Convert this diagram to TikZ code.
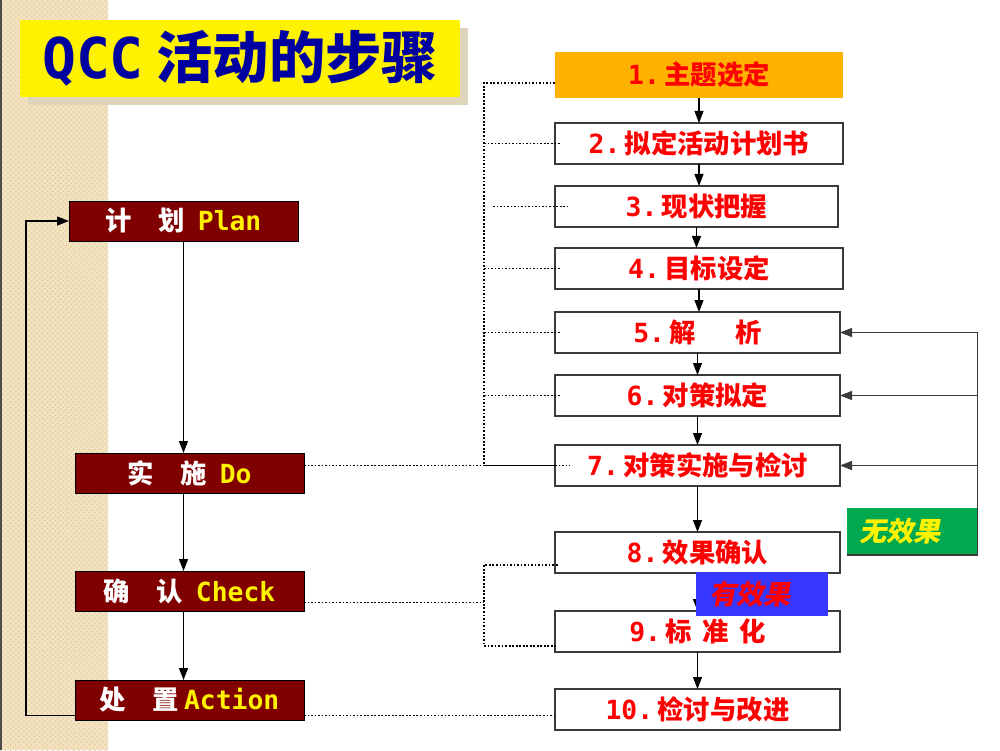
\documentclass[tikz,border=0pt]{standalone}
\usepackage{fontspec}
\newfontfamily\cjk{Noto Sans CJK SC}
\newfontfamily\cjkit{Noto Sans CJK SC}[FakeSlant=0.2]
\newfontfamily\mono{DejaVu Sans Mono}
\usetikzlibrary{positioning,patterns,arrows.meta}
\definecolor{darkred}{HTML}{800000}
\definecolor{titleblue}{HTML}{0000A0}
\definecolor{stepred}{HTML}{FF0000}
\definecolor{orangebox}{HTML}{FFB300}
\definecolor{greenbox}{HTML}{00A84F}
\definecolor{bluebox}{HTML}{3737FF}
\definecolor{strip}{HTML}{F2E2C0}
\definecolor{stripdot}{HTML}{E2CA9B}
\definecolor{shadow}{HTML}{DDD4BA}
\definecolor{edge}{HTML}{3A3A3A}
\newcommand\yel[1]{{\mono\color{yellow}#1}}

\begin{document}
\begin{tikzpicture}
[>={Stealth[length=2.4mm,width=1.8mm,inset=0pt]}, line width=0.6pt,
 pdca/.style={draw=black, line width=0.5pt, fill=darkred, text=white, minimum width=4.58cm, minimum height=0.8cm, inner sep=0pt, outer sep=0pt, font=\cjk\bfseries\fontsize{15}{18}\selectfont},
 stage/.style={draw=edge, line width=0.8pt, fill=white, text=stepred, minimum width=5.7cm, minimum height=0.82cm, inner sep=0pt, outer sep=0pt, font=\cjk\bfseries\fontsize{15}{18}\selectfont},
 verdict/.style={minimum width=2.62cm, inner xsep=0.26cm, text width=2.1cm, align=left, outer sep=0pt, font=\cjkit\bfseries\fontsize{15.5}{18}\selectfont},
 link/.style={dash pattern=on 1pt off 1pt, line width=1pt, black}]
\useasboundingbox (0,0) rectangle (20,15);

% strip
\fill [strip] (0,0) rectangle (2.16,15);
\fill [pattern=crosshatch dots, pattern color=stripdot] (0,0) rectangle (2.16,15);
\draw [line width=1pt, black!70] (0.02,0) -- (0.02,15);

% title
\node [fill=shadow, minimum width=8.8cm, minimum height=1.54cm] at (4.96,13.67) {};
\node [fill=yellow, minimum width=8.8cm, minimum height=1.54cm, text=titleblue, font=\cjk\bfseries\fontsize{32}{36}\selectfont] (T) at (4.8,13.83) {\raisebox{-0.6ex}{{\mono QCC} 活动的步骤}};

% nodes 1
\node [pdca] (P) at (3.67,10.58) {计\quad 划\hspace{0.5em}\yel{Plan}};
\node [pdca, below=4.24cm of P, xshift=0.12cm] (D) {实\quad 施\hspace{0.5em}\yel{Do}};
\node [pdca, below=1.56cm of D] (C) {确\quad 认\hspace{0.5em}\yel{Check}};
\node [pdca, below=1.38cm of C] (A) {处\quad 置\hspace{0.2em}\yel{Action}};

% nodes 2
\node [stage, fill=orangebox, draw=none, minimum width=5.76cm, minimum height=0.92cm] (S1) at (13.98,13.5) {{\mono 1.}\,主题选定};
\node [stage, minimum width=5.76cm, below=0.5cm of S1.south west, anchor=north west] (S2) {{\mono 2.}\,拟定活动计划书};
\node [stage, minimum width=5.66cm, below=0.44cm of S2.south west, anchor=north west] (S3) {{\mono 3.}\,现状把握};
\node [stage, minimum width=5.76cm, below=0.42cm of S3.south west, anchor=north west] (S4) {{\mono 4.}\,目标设定};
\node [stage, below=0.46cm of S4.south west, anchor=north west] (S5) {{\mono 5.}\,解\hspace{1.5em}析};
\node [stage, below=0.44cm of S5.south west, anchor=north west] (S6) {{\mono 6.}\,对策拟定};
\node [stage, below=0.58cm of S6.south west, anchor=north west] (S7) {{\mono 7.}\,对策实施与检讨};
\node [stage, below=0.92cm of S7.south west, anchor=north west] (S8) {{\mono 8.}\,效果确认};
\node [stage, below=0.76cm of S8.south west, anchor=north west] (S9) {{\mono 9.}\,标\hspace{0.4em}准\hspace{0.4em}化};
\node [stage, below=0.74cm of S9.south west, anchor=north west] (S10) {{\mono 10.}\,检讨与改进};

% arrows 1
\draw [->] (P.south) -- (P.south |- D.north);
\draw [->] (D.south -| P) -- (C.north -| P);
\draw [->] (C.south -| P) -- (A.north -| P);
\coordinate (kb) at ([yshift=-0.31cm]A.west);
\draw [->] (kb) -- ++(-0.98,0) |- (P.west);

% arrows 2
\foreach \a/\b in {S1/S2,S2/S3,S3/S4,S4/S5,S5/S6,S6/S7,S7/S8,S8/S9,S9/S10}
  \draw [->] (\a.south) -- (\a.south |- \b.north);

% dotted links
\coordinate (trunk) at (9.68,0);
\coordinate (s1) at ([yshift=-0.16cm]S1.west);
\draw [link] (s1) -- (s1 -| trunk) -- (S7.west -| trunk);
\foreach \s in {S2,S4,S5,S6}
  \draw [link] (\s.west -| trunk) -- ([xshift=1.2mm]\s.west);
\draw [link] ([xshift=-1.24cm]S3.west) -- ([xshift=2.6mm]S3.west);
\draw [link] (D.east |- S7.west) -- (S7.west -| trunk);
\draw (S7.west -| trunk) -- (S7.west);
\draw [link] (S7.west) -- ([xshift=3mm]S7.west);
\coordinate (kc) at ([yshift=-0.23cm]C.east);
\coordinate (k8) at ([yshift=-0.25cm]S8.west);
\coordinate (k9) at ([yshift=-0.29cm]S9.west);
\draw [link] (kc) -- (kc -| trunk);
\draw [link] ([xshift=0.5mm]k8) -- (k8 -| trunk) -- (k9 -| trunk) -- ([xshift=0.5mm]k9);
\coordinate (ka) at ([yshift=-0.31cm]A.east);
\draw [link] (ka) -- (ka -| S10.west);

% verdicts
\node [verdict, fill=greenbox, text=yellow, minimum height=0.94cm] (N) at (18.24,4.37) {无效果};
\draw [->, edge] (N.south west) -- (N.south east) |- (S5.east);
\draw [->, edge] (S6.east -| N.east) -- (S6.east);
\draw [->, edge] (S7.east -| N.east) -- (S7.east);
\node [verdict, fill=bluebox, text=stepred, minimum width=2.64cm, minimum height=0.88cm] (Y) at (15.24,3.12) {有效果};

\end{tikzpicture}
\end{document}
